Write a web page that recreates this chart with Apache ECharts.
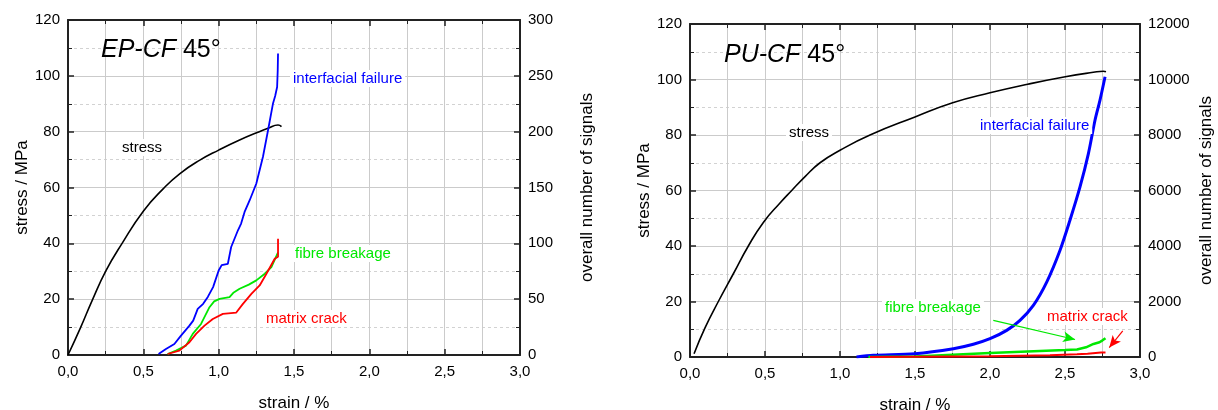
<!DOCTYPE html>
<html>
<head>
<meta charset="utf-8">
<title>EP-CF / PU-CF 45°</title>
<script src="https://cdn.jsdelivr.net/npm/echarts@6/dist/echarts.min.js"></script>
<style>
  html, body { margin: 0; padding: 0; background: #fff; }
  #chart { width: 1218px; height: 410px; }
</style>
</head>
<body>
<div id="chart"></div>
<script>
// EP-CF 45° (left panel)
const epStressX = [0, 0.084, 0.16, 0.253, 0.358, 0.501, 0.633, 0.743, 0.875, 1.0, 1.139, 1.27, 1.328, 1.394, 1.417]
const epStressY = [0, 9.9, 19.5, 30.3, 39.9, 51.6, 59.6, 65.0, 69.8, 73.4, 77.0, 80.0, 81.2, 82.4, 81.8]
const epInterX = [0.601, 0.65, 0.706, 0.75, 0.806, 0.831, 0.861, 0.897, 0.928, 0.963, 1.0, 1.02, 1.061, 1.083, 1.128, 1.149, 1.172, 1.206, 1.25, 1.294, 1.328, 1.361, 1.375, 1.388, 1.392, 1.394]
const epInterY = [1, 5.4, 9.9, 17.4, 26.3, 30.8, 41.3, 45.8, 52, 60.8, 75.7, 80.5, 81.7, 96.7, 111.7, 117.7, 128.1, 138.6, 153.6, 177.5, 201.5, 225.5, 232, 240, 255, 270]
const epFibreX = [0.661, 0.717, 0.783, 0.828, 0.883, 0.939, 0.97, 1.006, 1.072, 1.1, 1.139, 1.2, 1.25, 1.306, 1.35, 1.394]
const epFibreY = [0.9, 3.9, 8.4, 18.9, 27.8, 42.8, 48, 50.3, 51.8, 56, 59.3, 63, 66.8, 72.8, 78.7, 92]
const epMatrixX = [0.661, 0.739, 0.806, 0.85, 0.906, 0.961, 1.028, 1.117, 1.161, 1.217, 1.272, 1.317, 1.372, 1.394, 1.394]
const epMatrixY = [0.9, 3.9, 11.4, 18.9, 26.3, 32.3, 36.8, 38, 45.8, 54.8, 62.3, 72.8, 86.2, 88, 104.2]

// PU-CF 45° (right panel)
const puStressX = [0.027, 0.1, 0.189, 0.289, 0.389, 0.489, 0.6, 0.678, 0.767, 0.867, 1.0, 1.2, 1.5, 1.751, 2.0, 2.251, 2.502, 2.689, 2.756, 2.773]
const puStressY = [1.2, 10.5, 20.0, 30.0, 40.0, 48.5, 55.5, 60.0, 65.0, 70.0, 74.5, 80.0, 86.5, 91.6, 95.2, 98.3, 101.0, 102.6, 103.0, 102.8]
const puInterX = [1.11, 1.222, 1.5, 1.756, 1.889, 2.0, 2.111, 2.2, 2.289, 2.378, 2.467, 2.533, 2.6, 2.656, 2.7, 2.733, 2.767]
const puInterY = [0, 60, 120, 300, 460, 660, 960, 1320, 1860, 2700, 3850, 4930, 6130, 7330, 8530, 9250, 10100]
const puFibreX = [1.189, 1.5, 2.0, 2.333, 2.5, 2.58, 2.64, 2.69, 2.73, 2.75, 2.77]
const puFibreY = [0, 20, 144, 220, 250, 270, 350, 470, 530, 600, 680]
const puMatrixX = [1.2, 1.5, 2.0, 2.4, 2.58, 2.65, 2.74, 2.77]
const puMatrixY = [0, 10, 25, 60, 100, 120, 160, 160]

// arrows pointing to the PU curves [strain, signals]
const fibreArrow = [[2.022, 1320], [2.567, 630]]
const matrixArrow = [[2.885, 940], [2.795, 340]]

const FONT = 'Liberation Sans, Arial, sans-serif'
const zip = (xs, ys) => xs.map((x, i) => [x, ys[i]])

function xAxes(gi) {
  const base = {
    type: 'value', gridIndex: gi, min: 0, max: 3, interval: 0.5,
    axisLine: { onZero: false, lineStyle: { color: '#222', width: 2 } },
    axisTick: { inside: true, length: 6, lineStyle: { color: '#222', width: 1.5 } },
    minorTick: { show: true, splitNumber: 2, length: 4, lineStyle: { color: '#222' } }
  }
  return [
    Object.assign({}, base, {
      position: 'bottom',
      name: 'strain / %', nameLocation: 'middle', nameGap: 40,
      nameTextStyle: { fontFamily: FONT, fontSize: 17, color: '#000' },
      axisLabel: { fontFamily: FONT, fontSize: 15, color: '#000', margin: 9,
        formatter: v => v.toFixed(1).replace('.', ',') },
      splitLine: { show: true, lineStyle: { color: '#cbcbcb', width: 1 } },
      minorSplitLine: { show: true, lineStyle: { color: '#cbcbcb', width: 1 } }
    }),
    Object.assign({}, base, {
      position: 'top', axisLabel: { show: false },
      splitLine: { show: false }
    })
  ]
}

function yAxes(gi, rightMax, rightInterval, rightGap, leftGap) {
  const tick = {
    axisTick: { inside: true, length: 6, lineStyle: { color: '#222', width: 1.5 } },
    minorTick: { show: true, splitNumber: 2, length: 4, lineStyle: { color: '#222' } },
    axisLine: { show: true, onZero: false, lineStyle: { color: '#222', width: 2 } }
  }
  const nameStyle = { fontFamily: FONT, fontSize: 17, color: '#000' }
  return [
    Object.assign({
      type: 'value', gridIndex: gi, position: 'left', min: 0, max: 120, interval: 20,
      name: 'stress / MPa', nameLocation: 'middle', nameGap: leftGap, nameTextStyle: nameStyle,
      axisLabel: { fontFamily: FONT, fontSize: 15, color: '#000', margin: 8 },
      splitLine: { show: true, lineStyle: { color: '#cbcbcb', width: 1 } },
      minorSplitLine: { show: true, lineStyle: { color: '#d2d2d2', width: 1, type: [3, 3] } }
    }, tick),
    Object.assign({
      type: 'value', gridIndex: gi, position: 'right', min: 0, max: rightMax, interval: rightInterval,
      name: 'overall number of signals', nameLocation: 'middle', nameGap: rightGap, nameTextStyle: nameStyle,
      axisLabel: { fontFamily: FONT, fontSize: 15, color: '#000', margin: 8, formatter: v => String(v) },
      splitLine: { show: false }
    }, tick)
  ]
}

function line(name, data, color, width, xi, yi, smooth) {
  return {
    name: name, type: 'line', data: data, xAxisIndex: xi, yAxisIndex: yi,
    showSymbol: false, smooth: smooth || false, animation: false,
    lineStyle: { color: color, width: width }, z: 5
  }
}

function arrow(pts, color) {
  return {
    silent: true, symbol: ['none', 'arrow'], symbolSize: [8, 12], animation: false,
    label: { show: false }, z: 20,
    lineStyle: { color: color, width: 1.2, type: 'solid' },
    data: [[{ coord: pts[0] }, { coord: pts[1] }]]
  }
}

function tag(text, x, y, color) {
  return {
    type: 'text', left: x, top: y - 9, z: 10,
    style: {
      text: text, fill: color, font: '15px ' + FONT,
      backgroundColor: '#fff', padding: [1, 3]
    }
  }
}

const chart = echarts.init(document.getElementById('chart'))

const puFibre = line('fibre breakage', zip(puFibreX, puFibreY), '#00e800', 2.5, 2, 3)
puFibre.markLine = arrow(fibreArrow, '#00e800')
const puMatrix = line('matrix crack', zip(puMatrixX, puMatrixY), '#ff0000', 2, 2, 3)
puMatrix.markLine = arrow(matrixArrow, '#ff0000')

chart.setOption({
  backgroundColor: '#fff',
  animation: false,
  title: [
    { text: '{i|EP-CF} 45°', left: 96, top: 33,
      textStyle: { fontFamily: FONT, fontSize: 25, fontWeight: 'normal', color: '#000',
        rich: { i: { fontFamily: FONT, fontSize: 25, fontStyle: 'italic', color: '#000' } } } },
    { text: '{i|PU-CF} 45°', left: 719, top: 38,
      textStyle: { fontFamily: FONT, fontSize: 25, fontWeight: 'normal', color: '#000',
        rich: { i: { fontFamily: FONT, fontSize: 25, fontStyle: 'italic', color: '#000' } } } }
  ],
  grid: [
    { left: 68, top: 20, width: 452, height: 335, outerBoundsMode: 'none', containLabel: false },
    { left: 690, top: 24, width: 450, height: 333, outerBoundsMode: 'none', containLabel: false }
  ],
  xAxis: xAxes(0).concat(xAxes(1)),
  yAxis: yAxes(0, 300, 50, 59, 30).concat(yAxes(1, 12000, 2000, 58, 30)),
  series: [
    line('stress', zip(epStressX, epStressY), '#000', 1.6, 0, 0, 0.5),
    line('interfacial failure', zip(epInterX, epInterY), '#0000ff', 1.8, 0, 1),
    line('fibre breakage', zip(epFibreX, epFibreY), '#00e800', 1.8, 0, 1),
    line('matrix crack', zip(epMatrixX, epMatrixY), '#ff0000', 1.8, 0, 1),
    line('stress', zip(puStressX, puStressY), '#000', 1.6, 2, 2, 0.5),
    line('interfacial failure', zip(puInterX, puInterY), '#0000ff', 3, 2, 3, 0.3),
    puFibre,
    puMatrix
  ],
  graphic: [
    tag('stress', 119, 148, '#000'),
    tag('interfacial failure', 290, 79, '#0000ff'),
    tag('fibre breakage', 292, 254, '#00e800'),
    tag('matrix crack', 263, 319, '#ff0000'),
    tag('stress', 786, 133, '#000'),
    tag('interfacial failure', 977, 126, '#0000ff'),
    tag('fibre breakage', 882, 308, '#00e800'),
    tag('matrix crack', 1044, 317, '#ff0000')
  ]
})
</script>
</body>
</html>
